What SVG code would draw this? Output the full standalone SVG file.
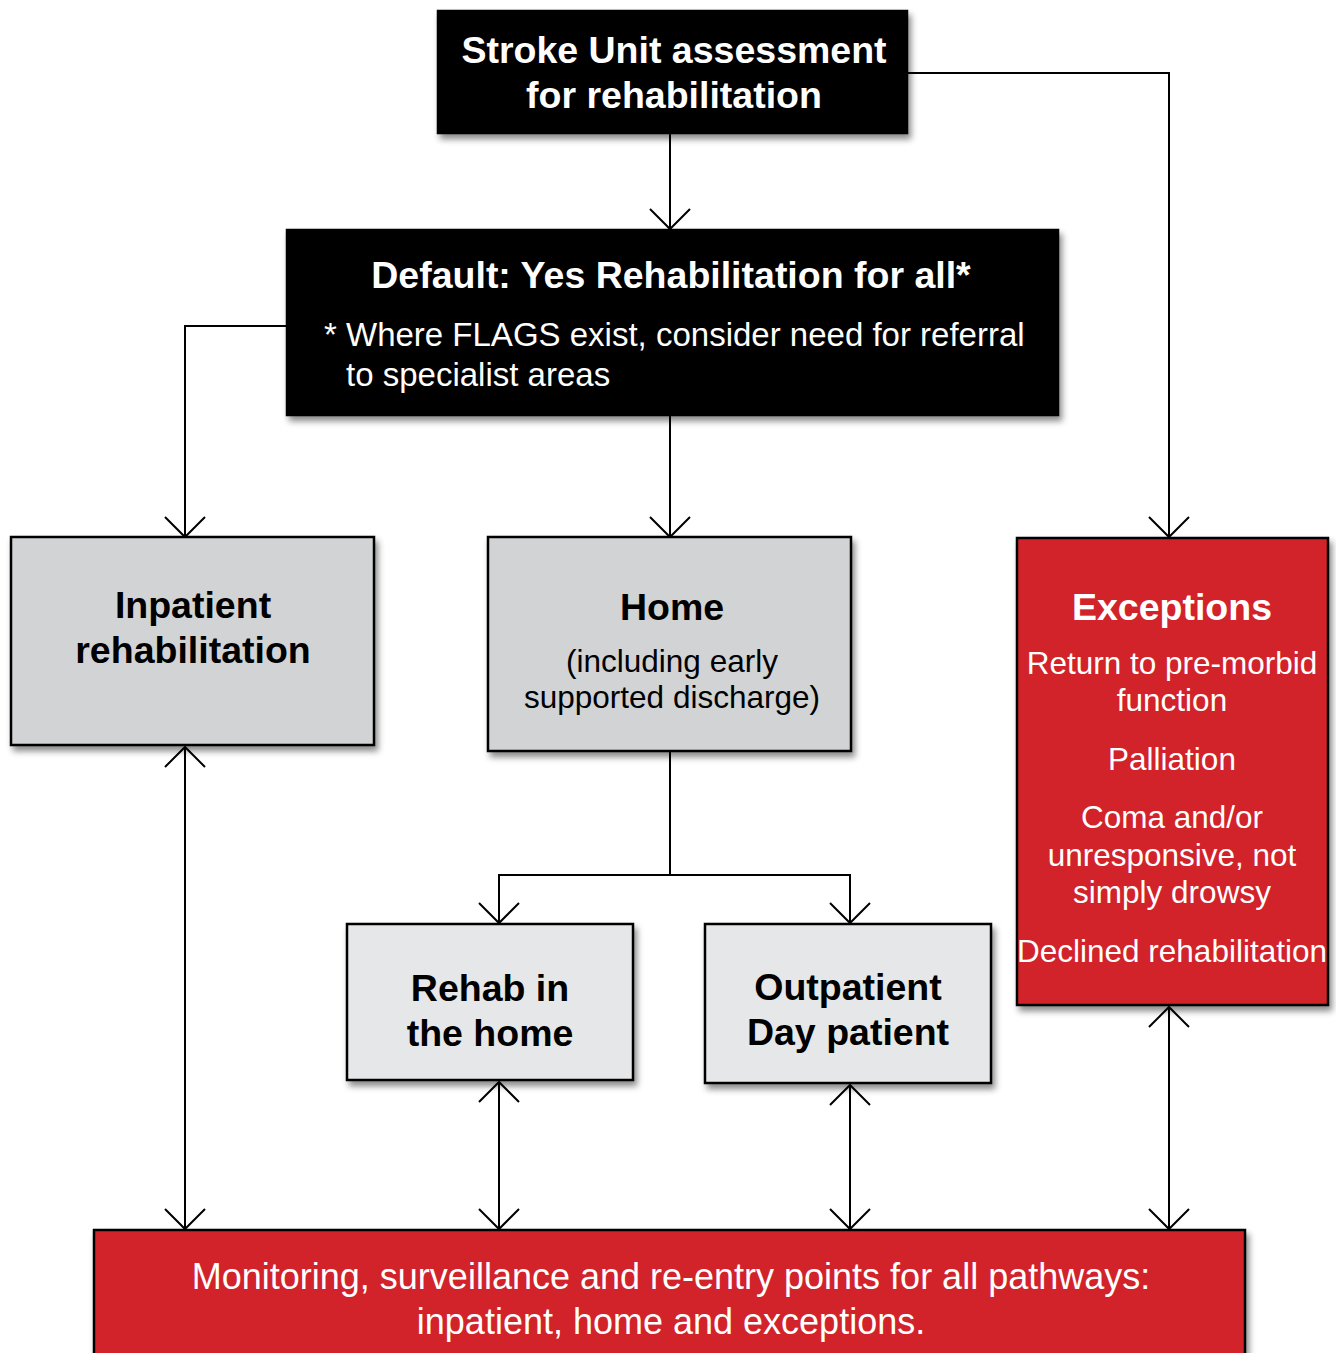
<svg xmlns="http://www.w3.org/2000/svg" width="1336" height="1353" viewBox="0 0 1336 1353">
<style>
.box{stroke:#000;stroke-width:2.5}
.blk{fill:#000}
.gray{fill:#d1d3d4}
.lgray{fill:#e6e7e8}
.red{fill:#d2232a}
text{font-family:"Liberation Sans",Arial,Helvetica,sans-serif;text-anchor:middle}
.b{font-weight:bold;font-size:37.5px}
.r{font-size:31.5px}
.w{fill:#fff}
.k{fill:#000}
.conn{fill:none;stroke:#000;stroke-width:2}
</style>
<defs>
<filter id="sh" x="-10%" y="-10%" width="125%" height="130%">
<feDropShadow dx="3" dy="5" stdDeviation="3" flood-color="#000" flood-opacity="0.45"/>
</filter>
<marker id="ar" markerUnits="userSpaceOnUse" markerWidth="44" markerHeight="44" viewBox="-22 -22 44 44" refX="0" refY="0" orient="auto-start-reverse">
<path d="M-20,-20 L0,0 L-20,20" fill="none" stroke="#000" stroke-width="2"/>
</marker>
</defs>

<g id="connectors">
<path class="conn" d="M670,133 V229" marker-end="url(#ar)"/>
<path class="conn" d="M907,73 H1169 V537" marker-end="url(#ar)"/>
<path class="conn" d="M287,326 H185 V537" marker-end="url(#ar)"/>
<path class="conn" d="M670,415 V537" marker-end="url(#ar)"/>
<path class="conn" d="M670,751 V875 H499 V923" marker-end="url(#ar)"/>
<path class="conn" d="M670,875 H850 V923" marker-end="url(#ar)"/>
<path class="conn" d="M185,747 V1229" marker-start="url(#ar)" marker-end="url(#ar)"/>
<path class="conn" d="M499,1082 V1229" marker-start="url(#ar)" marker-end="url(#ar)"/>
<path class="conn" d="M850,1085 V1229" marker-start="url(#ar)" marker-end="url(#ar)"/>
<path class="conn" d="M1169,1007 V1229" marker-start="url(#ar)" marker-end="url(#ar)"/>
</g>

<g id="stroke-unit">
<rect class="box blk" x="438" y="11" width="469" height="122" filter="url(#sh)"/>
<text class="b w" x="674" y="63">Stroke Unit assessment</text>
<text class="b w" x="674" y="108">for rehabilitation</text>
</g>

<g id="default">
<rect class="box blk" x="287" y="230" width="771" height="185" filter="url(#sh)"/>
<text class="b w" x="671" y="288">Default: Yes Rehabilitation for all*</text>
<text class="w" style="font-size:33px;text-anchor:start" x="324" y="346">* <tspan x="346">Where FLAGS exist, consider need for referral</tspan></text>
<text class="w" style="font-size:33px;text-anchor:start" x="346" y="386">to specialist areas</text>
</g>

<g id="inpatient">
<rect class="box gray" x="11" y="537" width="363" height="208" filter="url(#sh)"/>
<text class="b k" x="193" y="618">Inpatient</text>
<text class="b k" x="193" y="663">rehabilitation</text>
</g>

<g id="home">
<rect class="box gray" x="488" y="537" width="363" height="214" filter="url(#sh)"/>
<text class="b k" x="672" y="620">Home</text>
<text class="r k" x="672" y="672">(including early</text>
<text class="r k" x="672" y="708">supported discharge)</text>
</g>

<g id="exceptions">
<rect class="box red" x="1017" y="538" width="311" height="467" filter="url(#sh)"/>
<text class="b w" x="1172" y="620">Exceptions</text>
<text class="r w" x="1172" y="674">Return to pre-morbid</text>
<text class="r w" x="1172" y="711">function</text>
<text class="r w" x="1172" y="770">Palliation</text>
<text class="r w" x="1172" y="828">Coma and/or</text>
<text class="r w" x="1172" y="866">unresponsive, not</text>
<text class="r w" x="1172" y="903">simply drowsy</text>
<text class="r w" x="1172" y="962">Declined rehabilitation</text>
</g>

<g id="rehab-home">
<rect class="box lgray" x="347" y="924" width="286" height="156" filter="url(#sh)"/>
<text class="b k" x="490" y="1001">Rehab in</text>
<text class="b k" x="490" y="1046">the home</text>
</g>

<g id="outpatient">
<rect class="box lgray" x="705" y="924" width="286" height="159" filter="url(#sh)"/>
<text class="b k" x="848" y="1000">Outpatient</text>
<text class="b k" x="848" y="1045">Day patient</text>
</g>

<g id="monitoring">
<rect class="box red" x="94" y="1230" width="1151" height="140" filter="url(#sh)"/>
<text class="w" style="font-size:36px" x="671" y="1289">Monitoring, surveillance and re-entry points for all pathways:</text>
<text class="w" style="font-size:36px" x="671" y="1334">inpatient, home and exceptions.</text>
</g>
</svg>
